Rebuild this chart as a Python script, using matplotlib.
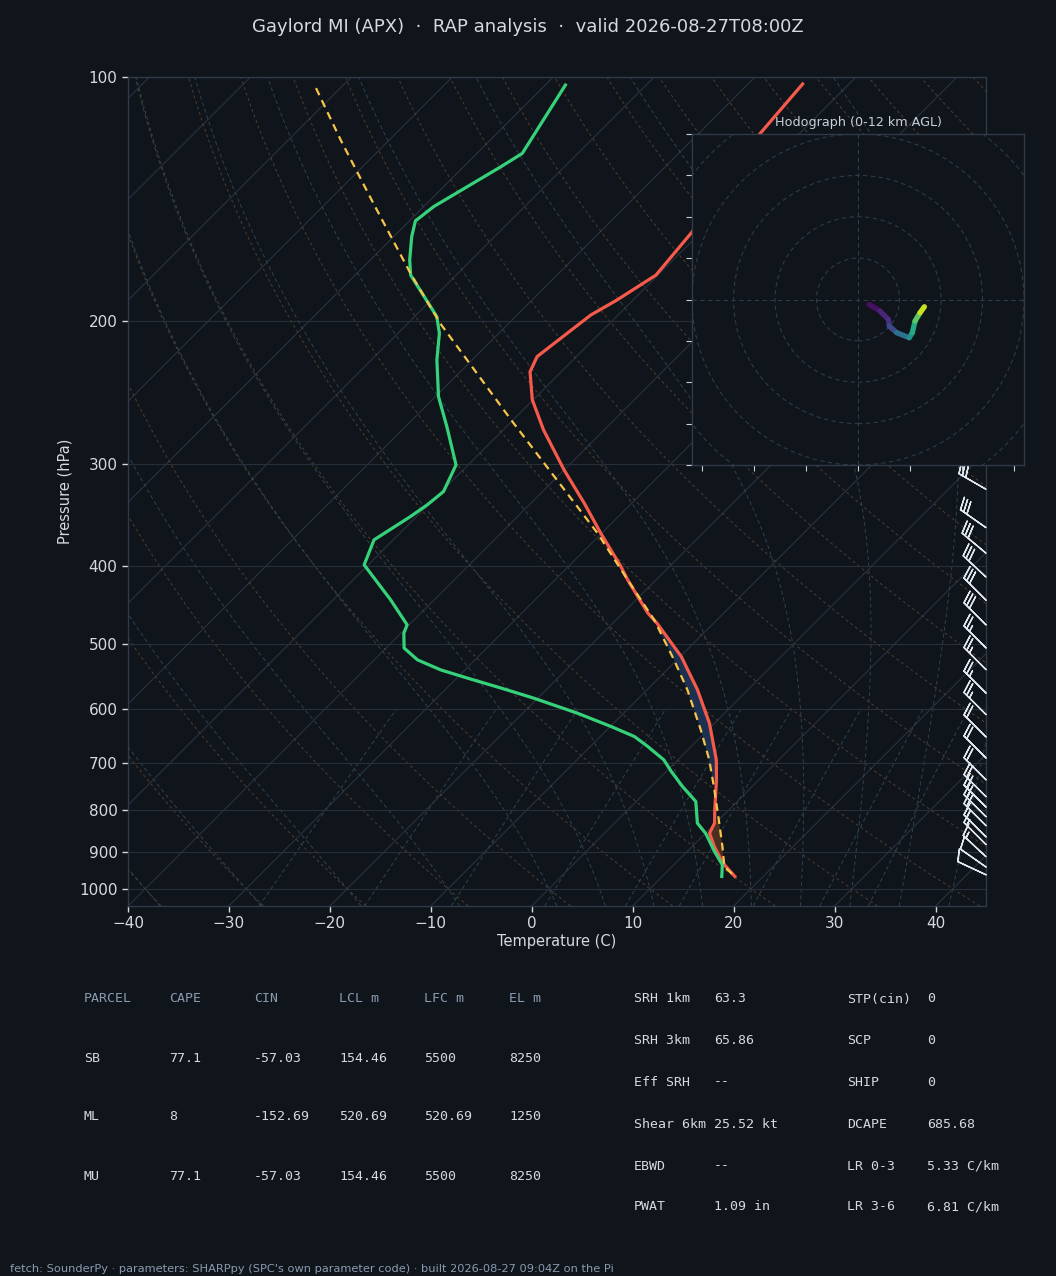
import numpy as np
import matplotlib
matplotlib.use("Agg")
import matplotlib.pyplot as plt
from matplotlib.transforms import Affine2D
from matplotlib.collections import LineCollection
from matplotlib.colors import Normalize
from matplotlib.patches import Circle
from matplotlib.ticker import NullLocator, FixedLocator, FixedFormatter

# ---------------- data ----------------
# environment temperature profile
env_p = [102.0, 117.5, 155.0, 175.4, 188.3, 196.4, 221.0, 230.7, 249.8, 272.1,
         304.8, 335.0, 364.7, 400.9, 416.4, 457.6, 470.9, 517.5, 568.7, 625.3,
         693.6, 734.1, 799.3, 830.1, 854.1, 887.1, 929.9, 965.7]
env_t = [-54.6, -53.9, -50.9, -50.2, -51.6, -52.7, -53.9, -53.1, -50.1, -46.0,
         -40.0, -34.7, -30.1, -24.8, -22.8, -17.5, -15.6, -9.9, -5.0, -0.5,
         3.8, 5.8, 8.6, 9.9, 10.4, 12.2, 14.7, 17.2]

# dewpoint profile
dew_p = [102.3, 124.2, 129.0, 144.4, 150.4, 157.3, 168.0, 175.4, 197.3, 206.8,
         223.1, 247.6, 269.6, 300.5, 324.1, 336.6, 347.9, 371.7, 399.0, 440.7,
         473.0, 484.3, 505.2, 522.4, 537.5, 550.3, 566.0, 582.3, 607.6, 631.2,
         649.4, 668.0, 693.6, 717.0, 748.2, 780.7, 830.1, 854.1, 870.5, 899.6,
         934.2, 965.7]
dew_t = [-78.0, -75.5, -76.3, -79.0, -79.4, -78.2, -76.1, -74.5, -67.8, -65.9,
         -63.5, -59.7, -55.9, -51.2, -49.8, -50.1, -50.6, -51.9, -50.4, -44.3,
         -40.2, -39.7, -38.2, -35.7, -32.4, -28.9, -24.6, -20.4, -14.6, -9.9,
         -6.6, -4.3, -1.4, 0.5, 3.1, 5.9, 8.2, 10.0, 11.0, 12.7,
         14.8, 15.9]

# surface-based parcel path
parcel_p = [103.2, 119.6, 143.1, 174.5, 201.1, 264.5, 294.9, 364.8, 416.4, 466.5,
            522.3, 568.7, 637.2, 693.6, 748.2, 822.5, 887.1, 939.5, 965.7]
parcel_t = [-102.4, -94.8, -85.3, -74.7, -66.8, -50.2, -43.5, -30.4, -22.8, -16.2,
            -10.3, -6.0, -0.7, 3.1, 6.2, 10.0, 13.0, 15.2, 17.2]

# shaded layers (hPa)
cape_layer = (805, 945)
cin_layer = (460, 755)

# wind barbs: pressure (hPa), speed (kt), direction (deg, from)
barb_p = [322, 359, 386, 413, 441, 473, 505, 537, 574, 610, 650, 690, 734,
          770, 793, 815, 836, 863, 882, 913, 940, 961]
barb_spd = [30, 30, 30, 30, 30, 28, 27, 25, 25, 23, 22, 21, 20,
            20, 20, 20, 18, 17, 16, 15, 12, 8]
barb_dir = [300, 305, 310, 313, 315, 315, 315, 315, 315, 315, 315, 315, 315,
            315, 315, 315, 315, 315, 315, 313, 305, 295]

# hodograph (kt, km AGL)
hodo_u = [5.4, 10.6, 14.6, 15.1, 18.6, 24.7, 26.2, 27.5, 29.9, 32.0]
hodo_v = [-2.4, -5.6, -9.6, -12.9, -16.0, -18.5, -16.0, -10.4, -6.4, -3.5]
hodo_z = [0.0, 1.0, 1.5, 1.8, 3.5, 5.4, 6.5, 8.0, 10.0, 12.0]

# parameter tables
parcel_names = ["SB", "ML", "MU"]
cape_vals = [77.1, 8, 77.1]
cin_vals = [-57.03, -152.69, -57.03]
lcl_vals = [154.46, 520.69, 154.46]
lfc_vals = [5500, 520.69, 5500]
el_vals = [8250, 1250, 8250]
table_headers = ["PARCEL", "CAPE", "CIN", "LCL m", "LFC m", "EL m"]

kin_labels = ["SRH 1km", "SRH 3km", "Eff SRH", "Shear 6km", "EBWD", "PWAT"]
kin_values = ["63.3", "65.86", "--", "25.52 kt", "--", "1.09 in"]
comp_labels = ["STP(cin)", "SCP", "SHIP", "DCAPE", "LR 0-3", "LR 3-6"]
comp_values = ["0", "0", "0", "685.68", "5.33 C/km", "6.81 C/km"]

title = "Gaylord MI (APX)  \u00b7  RAP analysis  \u00b7  valid 2026-08-27T08:00Z"
footer = ("fetch: SounderPy \u00b7 parameters: SHARPpy (SPC's own parameter code) "
          "\u00b7 built 2026-08-27 09:04Z on the Pi")

# ---------------- style ----------------
BG = "#10141b"
TXT = "#d5dae0"
DIM = "#8a9bb0"
GRID = "#27303a"
SPINE = "#2f3b48"

W, H = 1056, 1276
fig = plt.figure(figsize=(W / 100, H / 100), dpi=100, facecolor=BG)

rect = [128 / W, 1 - 906 / H, 858 / W, 829 / H]
ax = fig.add_axes(rect, facecolor=BG)
ax.set_yscale("log")
ax.set_ylim(1050, 100)
ax.set_xlim(-40, 45)
ax.set_autoscale_on(False)

k = (rect[3] * H) / (rect[2] * W)  # 45 degree skew in display
skew = Affine2D(np.array([[1.0, k, 0.0], [0.0, 1.0, 0.0], [0.0, 0.0, 1.0]]))
trans = ax.transScale + ax.transLimits + skew + ax.transAxes

# axes cosmetics
for s in ax.spines.values():
    s.set_color(SPINE)
    s.set_linewidth(1.0)
yt = [100, 200, 300, 400, 500, 600, 700, 800, 900, 1000]
ax.yaxis.set_major_locator(FixedLocator(yt))
ax.yaxis.set_major_formatter(FixedFormatter([str(v) for v in yt]))
ax.yaxis.set_minor_locator(NullLocator())
ax.set_xticks(np.arange(-40, 41, 10))
ax.tick_params(colors=TXT, labelsize=11, length=4, width=1)
ax.yaxis.grid(True, color=GRID, lw=0.8)
ax.set_ylabel("Pressure (hPa)", color=TXT, fontsize=10.5, labelpad=5)
ax.set_xlabel("Temperature (C)", color=TXT, fontsize=10.5, labelpad=2)

# background reference lines
pp = np.geomspace(1050, 100, 80)
for t0 in range(-120, 60, 10):
    ax.plot([t0, t0], [1050, 100], transform=trans, color="#2a333e", lw=0.8, zorder=1)

for th in range(-40, 201, 10):
    tt = (th + 273.15) * (pp / 1000.0) ** 0.2857 - 273.15
    ax.plot(tt, pp, transform=trans, color="#5e4a33", lw=0.7, ls=(0, (3, 3)),
            alpha=0.8, zorder=1)

Rd, Cp, Lv, eps = 287.04, 1005.7, 2.501e6, 0.622


def dTdp(T, p):
    tc = T - 273.15
    es = 6.112 * np.exp(17.67 * tc / (tc + 243.5))
    rs = eps * es / (p - es)
    return (Rd * T + Lv * rs) / (Cp + Lv ** 2 * rs * eps / (Rd * T ** 2)) / p


def moist(t0, plev):
    T = t0 + 273.15
    out = [T]
    for i in range(1, len(plev)):
        dp = plev[i] - plev[i - 1]
        k1 = dTdp(T, plev[i - 1])
        k2 = dTdp(T + k1 * dp, plev[i])
        T = T + 0.5 * (k1 + k2) * dp
        out.append(T)
    return np.array(out) - 273.15


p_up = np.geomspace(1000, 100, 120)
p_dn = np.linspace(1000, 1050, 6)
for t0 in list(range(-40, 0, 10)) + list(range(0, 46, 5)):
    tu = moist(t0, p_up)
    td = moist(t0, p_dn)
    ax.plot(np.concatenate([td[::-1], tu]), np.concatenate([p_dn[::-1], p_up]),
            transform=trans, color="#2c4450", lw=0.7, ls=(0, (4, 3)), zorder=1)

pm = np.geomspace(1050, 600, 30)
for w in [0.4, 1, 2, 4, 7, 10, 16, 24, 32]:
    wk = w / 1000.0
    e = pm * wk / (eps + wk)
    ln = np.log(e / 6.112)
    tdw = 243.5 * ln / (17.67 - ln)
    ax.plot(tdw, pm, transform=trans, color="#2a4650", lw=0.7, ls=(0, (4, 3)), zorder=1)

# shading
env_p_a, env_t_a = np.array(env_p), np.array(env_t)
par_p_a, par_t_a = np.array(parcel_p), np.array(parcel_t)


def layer_poly(lo, hi):
    me = (env_p_a >= lo) & (env_p_a <= hi)
    mp = (par_p_a >= lo) & (par_p_a <= hi)
    xs = np.concatenate([env_t_a[me], par_t_a[mp][::-1]])
    ys = np.concatenate([env_p_a[me], par_p_a[mp][::-1]])
    return xs, ys


xs, ys = layer_poly(*cape_layer)
ax.fill(xs, ys, transform=trans, facecolor="#4a2e1f", edgecolor="none", zorder=2)
xs, ys = layer_poly(*cin_layer)
ax.fill(xs, ys, transform=trans, facecolor="#1c3152", edgecolor="none", zorder=2)

# profiles
ax.plot(env_t, env_p, transform=trans, color="#f65a4b", lw=2.3, zorder=4,
        solid_joinstyle="round")
ax.plot(dew_t, dew_p, transform=trans, color="#36d27a", lw=2.3, zorder=4,
        solid_joinstyle="round")
ax.plot(parcel_t, parcel_p, transform=trans, color="#f7c548", lw=1.6,
        ls=(0, (3.5, 2.5)), zorder=5)

# wind barbs on right edge
spd = np.array(barb_spd, dtype=float)
wd = np.deg2rad(np.array(barb_dir, dtype=float))
bu = -spd * np.sin(wd)
bv = -spd * np.cos(wd)
ax.barbs(np.ones(len(barb_p)), barb_p, bu, bv,
         transform=ax.get_yaxis_transform(), clip_on=False, length=6.7,
         color="#dfe6ee", linewidth=1.0, zorder=6)

# ---------------- hodograph ----------------
hax = fig.add_axes([692 / W, 1 - 465 / H, 332 / W, 331 / H], facecolor=BG)
hax.set_xlim(-80, 80)
hax.set_ylim(-80, 80)
for s in hax.spines.values():
    s.set_color(SPINE)
    s.set_linewidth(1.0)
for r in range(20, 121, 20):
    hax.add_patch(Circle((0, 0), r, fill=False, ls=(0, (4, 3)), color=SPINE, lw=0.8))
hax.axhline(0, color=SPINE, ls=(0, (4, 3)), lw=0.8)
hax.axvline(0, color=SPINE, ls=(0, (4, 3)), lw=0.8)
hax.set_xticks(np.arange(-75, 76, 25))
hax.set_yticks(np.arange(-80, 81, 20))
hax.tick_params(labelleft=False, labelbottom=False, colors="#c8d0d8", length=4)
pts = np.column_stack([hodo_u, hodo_v])
segs = np.stack([pts[:-1], pts[1:]], axis=1)
hz = np.array(hodo_z)
lc = LineCollection(segs, cmap="viridis", norm=Normalize(0, 12), linewidths=3.8,
                    capstyle="round")
lc.set_array(0.5 * (hz[:-1] + hz[1:]))
hax.add_collection(lc)
hax.set_title("Hodograph (0-12 km AGL)", color="#c8d0d8", fontsize=9.2, pad=6)

# ---------------- texts ----------------
fig.text(0.5, 1 - 27 / H, title, ha="center", va="center", color=TXT, fontsize=13)

mono = "DejaVu Sans Mono"
col_x = [84, 169, 254, 339, 424, 509]
row_y = [999, 1058, 1117, 1176]
for j, h in enumerate(table_headers):
    fig.text(col_x[j] / W, 1 - row_y[0] / H, h, family=mono, fontsize=9.5,
             color=DIM, va="center", ha="left")
for i, name in enumerate(parcel_names):
    vals = [name, f"{cape_vals[i]:g}", f"{cin_vals[i]:g}", f"{lcl_vals[i]:g}",
            f"{lfc_vals[i]:g}", f"{el_vals[i]:g}"]
    for j, v in enumerate(vals):
        fig.text(col_x[j] / W, 1 - row_y[i + 1] / H, v, family=mono, fontsize=9.5,
                 color=TXT, va="center", ha="left")

r_rows = [999, 1041, 1082, 1124, 1166, 1207]
for i in range(len(kin_labels)):
    y = 1 - r_rows[i] / H
    fig.text(634 / W, y, kin_labels[i], family=mono, fontsize=9.5, color=TXT, va="center")
    fig.text(714 / W, y, kin_values[i], family=mono, fontsize=9.5, color=TXT, va="center")
    fig.text(847 / W, y, comp_labels[i], family=mono, fontsize=9.5, color=TXT, va="center")
    fig.text(927 / W, y, comp_values[i], family=mono, fontsize=9.5, color=TXT, va="center")

fig.text(10 / W, 1 - 1269 / H, footer, color=DIM, fontsize=8.2, va="center", ha="left")

fig.savefig("out.png", dpi=100, facecolor=BG)
